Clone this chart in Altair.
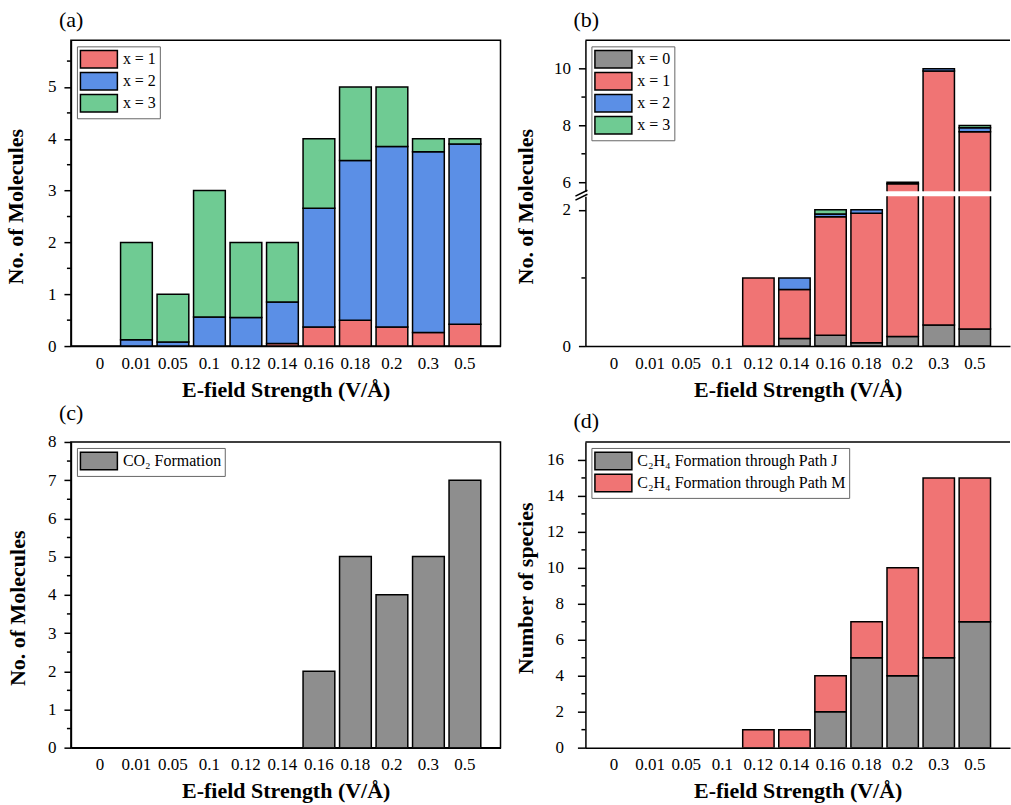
import altair as alt
import pandas as pd

# ---------------- data ----------------
cats = ["0", "0.01", "0.05", "0.1", "0.12", "0.14", "0.16", "0.18", "0.2", "0.3", "0.5"]

# (a)
labels_a = ["x = 1", "x = 2", "x = 3"]
a_x1 = [0, 0, 0, 0, 0, 0.05, 0.37, 0.50, 0.37, 0.26, 0.42]
a_x2 = [0, 0.12, 0.08, 0.56, 0.55, 0.80, 2.29, 3.08, 3.48, 3.49, 3.48]
a_x3 = [0, 1.88, 0.92, 2.44, 1.45, 1.15, 1.34, 1.42, 1.15, 0.25, 0.10]

# (b)
labels_b = ["x = 0", "x = 1", "x = 2", "x = 3"]
b_x0 = [0, 0, 0, 0, 0, 0.11, 0.16, 0.05, 0.14, 0.31, 0.25]
b_x1 = [0, 0, 0, 0, 1.00, 0.72, 1.74, 1.90, 5.80, 9.61, 7.53]
b_x2 = [0, 0, 0, 0, 0, 0.17, 0.04, 0.05, 0.06, 0.08, 0.14]
b_x3 = [0, 0, 0, 0, 0, 0, 0.06, 0, 0, 0, 0.08]

# (c)
labels_c = ["CO₂ Formation"]
c_co2 = [0, 0, 0, 0, 0, 0, 2, 5, 4, 5, 7]

# (d)
labels_d = ["C₂H₄ Formation through Path J", "C₂H₄ Formation through Path M"]
d_path_j = [0, 0, 0, 0, 0, 0, 2, 5, 4, 5, 7]
d_path_m = [0, 0, 0, 0, 1, 1, 2, 2, 6, 10, 8]

# ---------------- style ----------------
FONT = "Liberation Serif"
GRAY, RED, BLUE, GREEN = "#8E8E8E", "#F07474", "#5B8FE6", "#6FCB93"
XTITLE = "E-field Strength (V/Å)"
RECT = "M-2,-0.95H2V0.95H-2Z"


def stack_frame(names, series):
    rows = []
    for k, (name, vals) in enumerate(zip(names, series)):
        for c, v in zip(cats, vals):
            if v > 0:
                rows.append({"cat": c, "s": name, "k": k, "v": v})
    return pd.DataFrame(rows)


def x_scale():
    return alt.Scale(domain=cats, paddingInner=0.13, paddingOuter=0.45, align=0.4)


def x_axis():
    return alt.Axis(title=XTITLE, labelAngle=0, ticks=False, labelPadding=9, titlePadding=8)


def y_axis(title, values, tick, lpad, **kw):
    return alt.Axis(title=title, values=values, tickCount=40, format="d", tickSize=tick,
                    labelPadding=lpad, labelOverlap=False, labelBound=False, **kw)


def legend():
    return alt.Legend(title=None, orient="top-left", offset=6, symbolType=RECT, symbolSize=342,
                      symbolStrokeColor="black", symbolStrokeWidth=1.5, labelFont=FONT,
                      labelFontSize=16, labelColor="black", strokeColor="#666666",
                      fillColor="white", padding=3, rowPadding=-3, labelOffset=14,
                      symbolOffset=9, labelLimit=400)


def bars(df, names, colors, ydom, yaxis, xaxis, leg):
    return alt.Chart(df).mark_bar(stroke="black", strokeWidth=1.5, opacity=1, clip=True).encode(
        x=alt.X("cat:N", sort=cats, scale=x_scale(), axis=xaxis),
        y=alt.Y("v:Q", stack="zero", scale=alt.Scale(domain=ydom, nice=False, zero=False), axis=yaxis),
        color=alt.Color("s:N", scale=alt.Scale(domain=names, range=colors), legend=leg),
        order=alt.Order("k:Q", sort="ascending"),
    )


def minor(vals):
    return alt.Chart(pd.DataFrame({"t": vals})).mark_rule(color="black", strokeWidth=1.5).encode(
        y=alt.Y("t:Q"), x=alt.value(0), x2=alt.value(-4))


def ptitle(t):
    return alt.TitleParams(t, anchor="start", frame="group", dx=-12, offset=8, font=FONT,
                           fontSize=22, fontWeight="normal", color="black")


def top_border(w):
    return alt.Chart(pd.DataFrame({"t": [0]})).mark_rule(color="black", strokeWidth=1.5).encode(
        x=alt.value(0), x2=alt.value(w), y=alt.value(0))


NOFRAME = alt.ViewBackground(stroke=None)
FRAME = alt.ViewBackground(stroke="black", strokeWidth=1.5)

WL, WR, H = 430, 425, 306

# ---------------- (a) ----------------
dfa = stack_frame(labels_a, [a_x1, a_x2, a_x3])
ya = y_axis("No. of Molecules", [0, 1, 2, 3, 4, 5], 7, 8, titleX=-43, titleY=166)
pa = alt.layer(
    bars(dfa, labels_a, [RED, BLUE, GREEN], [0, 5.9], ya, x_axis(), legend()),
    minor([0.5, 1.5, 2.5, 3.5, 4.5, 5.5]),
).properties(width=WL, height=H, title=ptitle("(a)"), view=FRAME)

# ---------------- (b) broken axis ----------------
dfb = stack_frame(labels_b, [b_x0, b_x1, b_x2, b_x3])
yb_up = y_axis(None, [6, 8, 10], 7, 8)
pb_up = alt.layer(
    bars(dfb, labels_b, [GRAY, RED, BLUE, GREEN], [5.68, 11], yb_up, None, legend()),
    minor([7, 9]),
    top_border(WR),
).properties(width=WR, height=151, title=ptitle("(b)"), view=NOFRAME)

yb_lo = y_axis("No. of Molecules", [0, 2], 7, 8, titleX=-48, titleY=10)
brk1 = alt.Chart(pd.DataFrame({"t": [0]})).mark_rule(color="black", strokeWidth=1.5).encode(
    x=alt.value(-10), x2=alt.value(2), y=alt.value(0), y2=alt.value(-6))
brk2 = alt.Chart(pd.DataFrame({"t": [0]})).mark_rule(color="black", strokeWidth=1.5).encode(
    x=alt.value(-10), x2=alt.value(2), y=alt.value(4), y2=alt.value(-2))
pb_lo = alt.layer(
    bars(dfb, labels_b, [GRAY, RED, BLUE, GREEN], [0, 2.2], yb_lo, x_axis(), None),
    minor([1]),
    brk1, brk2,
).properties(width=WR, height=150, view=NOFRAME)

pb = alt.vconcat(pb_up, pb_lo, spacing=5, bounds="flush").resolve_scale(color="independent")

# ---------------- (c) ----------------
dfc = stack_frame(labels_c, [c_co2])
yc = y_axis("No. of Molecules", [0, 1, 2, 3, 4, 5, 6, 7, 8], 7, 8, titleX=-41, titleY=166)
pc = alt.layer(
    bars(dfc, labels_c, [GRAY], [0, 8], yc, x_axis(), legend()),
    minor([0.5, 1.5, 2.5, 3.5, 4.5, 5.5, 6.5, 7.5]),
).properties(width=WL, height=H, title=ptitle("(c)"), view=FRAME)

# ---------------- (d) ----------------
dfd = stack_frame(labels_d, [d_path_j, d_path_m])
yd = y_axis("Number of species", [0, 2, 4, 6, 8, 10, 12, 14, 16], 8, 14, titleX=-48, titleY=146)
pd_ = alt.layer(
    bars(dfd, labels_d, [GRAY, RED], [0, 17], yd, x_axis(), legend()),
    minor([1, 3, 5, 7, 9, 11, 13, 15]),
    top_border(WR),
).properties(width=WR, height=H, title=ptitle("(d)"), view=NOFRAME)

row1 = alt.hconcat(pa, pb, spacing=85, bounds="flush").resolve_scale(color="independent")
row2 = alt.hconcat(pc, pd_, spacing=85, bounds="flush").resolve_scale(color="independent")

# nested concat rows count as zero height in a flush layout, so the spacing spans row 1 too
chart = alt.vconcat(row1, row2, spacing=402, bounds="flush").resolve_scale(
    color="independent"
).configure(
    padding={"left": 4, "top": 8, "right": 0, "bottom": 0},
    background="white",
).configure_axis(
    labelFont=FONT, labelFontSize=17, labelColor="black",
    titleFont=FONT, titleFontSize=22, titleFontWeight="bold", titleColor="black",
    domainColor="black", domainWidth=1.5, tickColor="black", tickWidth=1.5, grid=False,
).configure_view(stroke=None)

chart.save("out.html", embed_options={"renderer": "svg", "actions": False})
